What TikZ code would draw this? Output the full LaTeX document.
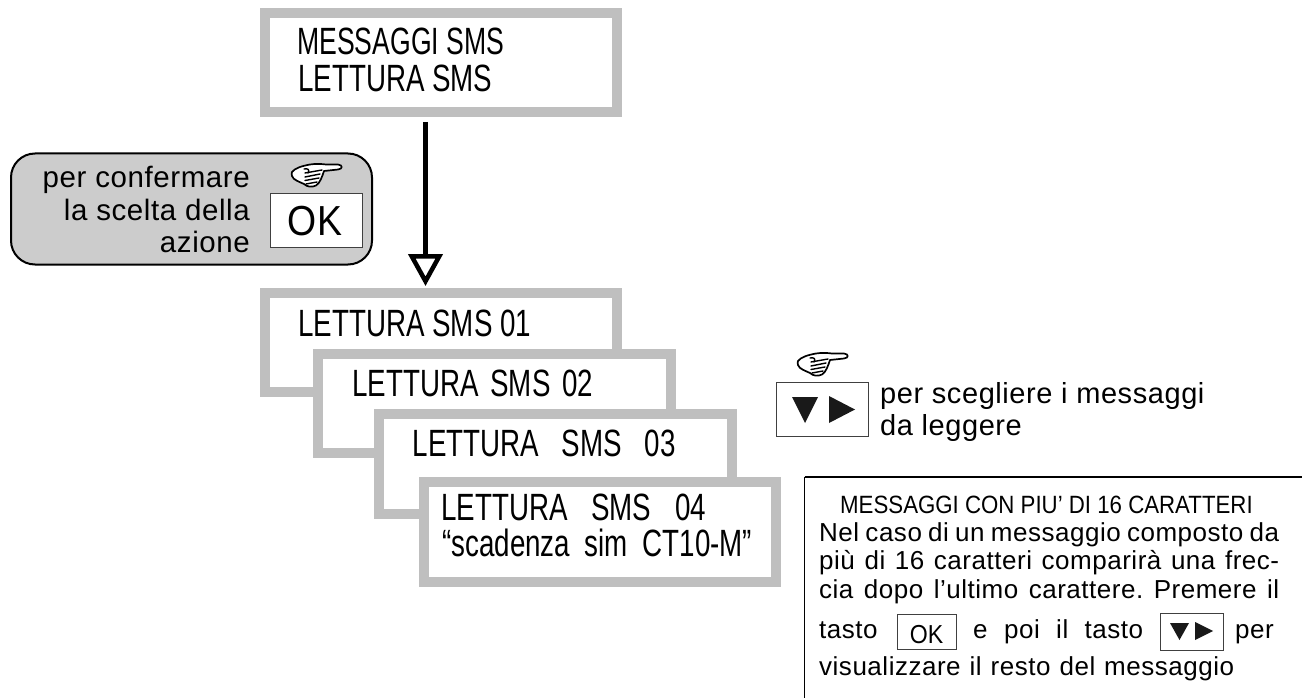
\documentclass[tikz,border=0pt]{standalone}
\usepackage{fontspec}
\setmainfont{Liberation Sans}
\newfontfamily\narrowf[FakeStretch=0.73]{Liberation Sans}
\newfontfamily\narrowerf[FakeStretch=0.70]{Liberation Sans}
\newfontfamily\headf[FakeStretch=0.89]{Liberation Sans}
\newfontfamily\bodyf[LetterSpace=2]{Liberation Sans}
\usetikzlibrary{arrows.meta}
\definecolor{boxgray}{HTML}{BFBFBF}
\definecolor{callgray}{HTML}{CCCCCC}
\frenchspacing
\tikzset{
  x=1pt,y=-1pt,
  lcd/.style={draw=boxgray,fill=white,line width=10pt,rectangle,inner sep=0pt,minimum width=#1},
  lcdtext/.style={anchor=base west,inner sep=0pt,font=\narrowf\fontsize{38}{38}\selectfont},
  bodytext/.style={anchor=base west,inner sep=0pt,font=\bodyf\fontsize{26}{26}\selectfont},
  calltext/.style={anchor=base east,inner sep=0pt,font=\bodyf\fontsize{29.5}{29.5}\selectfont},
  legendtext/.style={anchor=base west,inner sep=0pt,font=\bodyf\fontsize{29}{29}\selectfont},
  keybox/.style={draw=black!75,fill=white,line width=0.8pt,rectangle,inner sep=0pt},
  tri/.style={fill=black!90,draw=none},
  handline/.style={draw=black,line width=1.7pt,line join=round,line cap=round}
}
\newcommand{\handsym}[2]{%
  \begin{scope}[shift={(#1,#2)}]
    \draw[handline,fill=white] (2,9) .. controls (5,5) and (12,3) .. (20,1.5)
      .. controls (26,0.5) and (32,1) .. (36,1.5) -- (48,1.5)
      .. controls (53,2) and (53,6) .. (48,6.5) -- (34,8)
      .. controls (32,14) and (30,20) .. (26,22.5)
      .. controls (22,24.5) and (17,24) .. (14,21)
      .. controls (10,19) and (3,17) .. (2,13) .. controls (1.5,11) and (1.5,10) .. (2,9) -- cycle;
    \draw[handline,line width=1.4pt] (15,10) -- (32,7);
    \draw[handline,line width=1.4pt] (15,14) -- (30,11);
    \draw[handline,line width=1.4pt] (15,17.5) -- (29,15);
    \draw[handline,line width=1.4pt] (16,21) -- (27,19);
    \draw[handline,line width=1.4pt] (14,6) .. controls (18,5) and (20,7) .. (18,10);
  \end{scope}}
\begin{document}
\begin{tikzpicture}
\useasboundingbox (0,0) rectangle (1302,698);
% top display
\node[lcd=352pt,minimum height=99pt] (top) at (440.5,62.5) {};
\node[lcdtext,font=\narrowerf\fontsize{38}{38}\selectfont] (t1) at (297,55) {MESSAGGI SMS};
\node[lcdtext] (t2) at (298,92) {LETTURA SMS};
% stacked displays
\node[lcd=352pt,minimum height=99pt] (b1) at (440.5,342.5) {};
\node[lcdtext] (l1) at (298,336) {\makebox[233pt][s]{LETTURA SMS 01}};
\node[lcd=353pt,minimum height=99pt] (b2) at (494.5,403.5) {};
\node[lcdtext] (l2) at (352,396) {\makebox[241pt][s]{LETTURA SMS 02}};
\node[lcd=353pt,minimum height=100pt] (b3) at (555,464) {};
\node[lcdtext] (l3) at (412.5,456) {\makebox[263pt][s]{LETTURA SMS 03}};
\node[lcd=352pt,minimum height=100pt] (b4) at (600,532) {};
\node[lcdtext] (l4) at (441,520) {\makebox[265pt][s]{LETTURA SMS 04}};
\node[lcdtext] (l5) at (442,556) {\makebox[310pt][s]{“scadenza sim CT10-M”}};
% arrow
\coordinate (as) at (425.5,122);
\coordinate (ae) at (425.5,286);
\draw[line width=5pt,-{Triangle[open,length=32pt,width=34pt,line width=4.5pt]}] (as) -- (ae);
% callout
\node[draw=black,fill=callgray,line width=2pt,rounded corners=24pt,minimum width=361pt,minimum height=111pt,inner sep=0pt] (call) at (191.5,209) {};
\node[calltext] (c1) at (250,187) {per confermare};
\node[calltext] (c2) at (250,220) {la scelta della};
\node[calltext] (c3) at (250,252) {azione};
\node[keybox,minimum width=92pt,minimum height=54pt] (ok1) at (316,220) {};
\node[anchor=base,inner sep=0pt,font=\headf\fontsize{42}{42}\selectfont] (ok1t) at (315,236) {OK};
\handsym{290}{163}
% arrow key legend
\handsym{796}{352}
\node[keybox,minimum width=92pt,minimum height=54pt] (k1) at (822,409) {};
\fill[tri] (792,397) -- (818,397) -- (805,423) -- cycle;
\fill[tri] (829,396) -- (855,409.5) -- (829,423) -- cycle;
\node[legendtext] (p1) at (880,403) {per scegliere i messaggi};
\node[legendtext] (p2) at (880,435) {da leggere};
% note box
\coordinate (na) at (804.5,698);
\coordinate (nb) at (804.5,477);
\coordinate (nc) at (1302,477);
\draw[black,line width=0.8pt] (na) -- (nb);
\draw[black,line width=2pt] (nb) -- (nc);
\node[anchor=base west,inner sep=0pt,font=\headf\fontsize{25}{25}\selectfont] (n0) at (840,513) {MESSAGGI CON PIU’ DI 16 CARATTERI};
\node[bodytext] (n1) at (819,541) {\makebox[460pt][s]{Nel caso di un messaggio composto da}};
\node[bodytext] (n2) at (819,569) {\makebox[460pt][s]{più di 16 caratteri comparirà una frec-}};
\node[bodytext] (n3) at (819,598) {\makebox[460pt][s]{cia dopo l’ultimo carattere. Premere il}};
\node[bodytext] (n4) at (819,638) {tasto};
\node[keybox,minimum width=59pt,minimum height=35pt] (ok2) at (927,631.5) {};
\node[anchor=base,inner sep=0pt,font=\headf\fontsize{26}{26}\selectfont] (ok2t) at (926.5,643) {OK};
\node[bodytext] (n5) at (973,638) {\makebox[170pt][s]{e poi il tasto}};
\node[keybox,minimum width=63pt,minimum height=37pt] (k2) at (1191.5,631.5) {};
\fill[tri] (1170,623) -- (1189,623) -- (1179.5,640) -- cycle;
\fill[tri] (1195,622) -- (1213,631) -- (1195,640) -- cycle;
\node[bodytext] (n6) at (1235,638) {per};
\node[bodytext] (n7) at (819,675) {\makebox[415pt][s]{visualizzare il resto del messaggio}};
\end{tikzpicture}
\end{document}
